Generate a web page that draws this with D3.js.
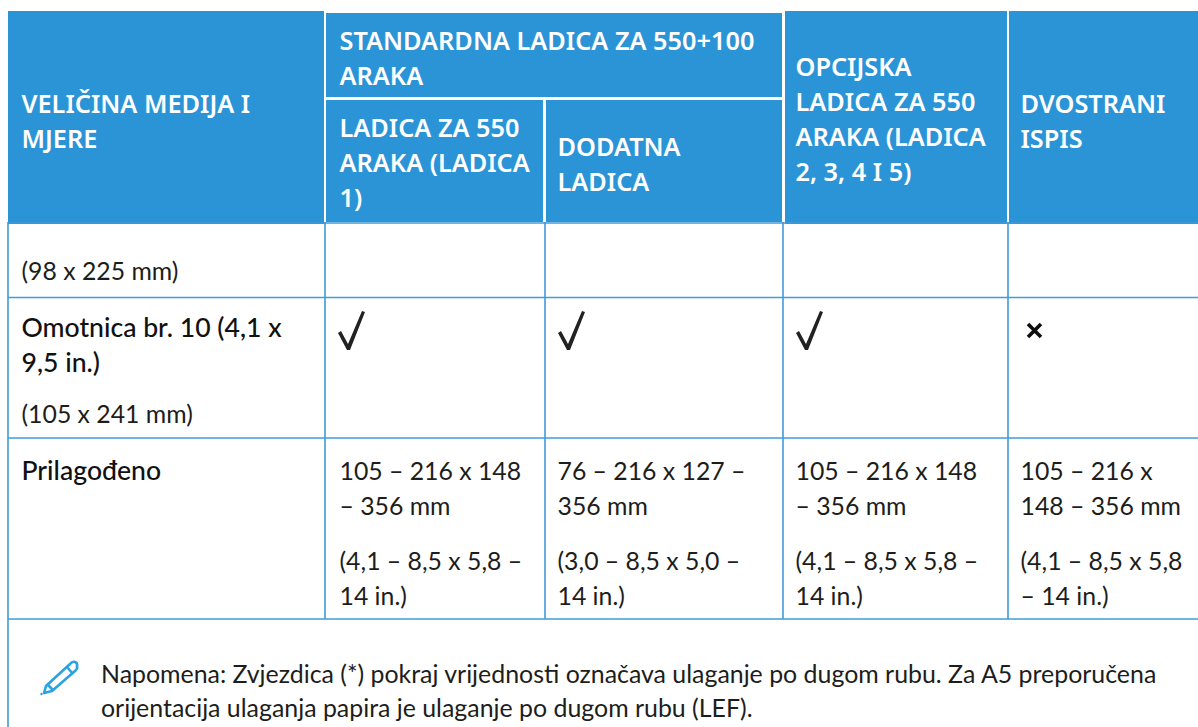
<!DOCTYPE html>
<html>
<head>
<meta charset="utf-8">
<script src="https://cdn.jsdelivr.net/npm/d3@7"></script>
<style>
  html, body { margin: 0; padding: 0; background: #fff; }
  svg { display: block; }
</style>
</head>
<body>
<div id="table"></div>
<script>
// Table content
var columns = ["size", "tray1", "bypass", "optional", "duplex"];
var groupHeader = ["STANDARDNA LADICA ZA 550+100", "ARAKA"];
var sizeHeader = ["VELIČINA MEDIJA I", "MJERE"];
var tray1Header = ["LADICA ZA 550", "ARAKA (LADICA", "1)"];
var bypassHeader = ["DODATNA", "LADICA"];
var optionalHeader = ["OPCIJSKA", "LADICA ZA 550", "ARAKA (LADICA", "2, 3, 4 I 5)"];
var duplexHeader = ["DVOSTRANI", "ISPIS"];

var firstRowText = ["(98 x 225 mm)"];
var envelopeName = ["Omotnica br. 10 (4,1 x", "9,5 in.)"];
var envelopeSize = ["(105 x 241 mm)"];
var envelopeSupport = ["yes", "yes", "yes", "no"];

var customName = ["Prilagođeno"];
var customMm = [
  ["105 – 216 x 148", "– 356 mm"],
  ["76 – 216 x 127 –", "356 mm"],
  ["105 – 216 x 148", "– 356 mm"],
  ["105 – 216 x", "148 – 356 mm"]
];
var customIn = [
  ["(4,1 – 8,5 x 5,8 –", "14 in.)"],
  ["(3,0 – 8,5 x 5,0 –", "14 in.)"],
  ["(4,1 – 8,5 x 5,8 –", "14 in.)"],
  ["(4,1 – 8,5 x 5,8", "– 14 in.)"]
];
var noteLines = [
  "Napomena: Zvjezdica (*) pokraj vrijednosti označava ulaganje po dugom rubu. Za A5 preporučena",
  "orijentacija ulaganja papira je ulaganje po dugom rubu (LEF)."
];

// Setup page
var svgWidth = 1198;
var svgHeight = 727;
var blue = "#2b94d6";
var gridBlue = "#3f9bd9";
var inkColor = "#1d1d1b";
var bodyFont = "Lato, 'Noto Sans', sans-serif";
var headFont = "'Noto Sans', sans-serif";

// column edges
var colLeft = d3.scaleOrdinal().domain(columns).range([8, 325, 545, 783, 1008]);
var colText = d3.scaleOrdinal().domain(columns).range([21.5, 339.5, 557.5, 795.5, 1020.5]);

var svg = d3.select("#table")
  .append("svg")
  .attr("width", svgWidth)
  .attr("height", svgHeight);

// soft edge for the scanned looking marks
svg.append("defs").append("filter")
  .attr("id", "soft")
  .append("feGaussianBlur")
  .attr("stdDeviation", 0.6);

// Header blocks
var headerBlocks = [
  { x: 8, y: 11, x2: 324, y2: 224 },
  { x: 326, y: 13, x2: 782, y2: 97 },
  { x: 326, y: 100, x2: 543, y2: 222 },
  { x: 546, y: 100, x2: 782, y2: 222 },
  { x: 785, y: 11, x2: 1007, y2: 224 },
  { x: 1009, y: 11, x2: 1198, y2: 224 }
];
svg.append("g").selectAll("rect")
  .data(headerBlocks)
  .join("rect")
  .attr("x", d => d.x)
  .attr("y", d => d.y)
  .attr("width", d => d.x2 - d.x)
  .attr("height", d => d.y2 - d.y)
  .attr("fill", blue);

// Grid lines under the header
var rowLines = [223, 297.5, 438, 619];
svg.append("g").selectAll("line")
  .data(rowLines)
  .join("line")
  .attr("x1", 8)
  .attr("x2", svgWidth)
  .attr("y1", d => d)
  .attr("y2", d => d)
  .attr("stroke", gridBlue)
  .attr("stroke-width", 1.6);

svg.append("g").selectAll("line")
  .data(columns)
  .join("line")
  .attr("x1", d => colLeft(d))
  .attr("x2", d => colLeft(d))
  .attr("y1", 222)
  .attr("y2", d => d === "size" ? svgHeight : 619)
  .attr("stroke", gridBlue)
  .attr("stroke-width", 1.6);

// writes a block of lines, one text element per line
function writeLines(x, y, lines, lineHeight, cfg) {
  svg.append("g").selectAll("text")
    .data(lines)
    .join("text")
    .attr("x", x)
    .attr("y", (d, i) => y + i * lineHeight)
    .attr("font-family", cfg.font)
    .attr("font-size", cfg.size)
    .attr("font-weight", cfg.weight)
    .attr("fill", cfg.color)
    .text(d => d);
}

var headStyle = { font: headFont, size: 25.3, weight: 600, color: "#fff" };
var bodyStyle = { font: bodyFont, size: 24.8, weight: 400, color: inkColor };
var nameStyle = { font: bodyFont, size: 26.6, weight: 500, color: "#111" };

writeLines(colText("size"), 113, sizeHeader, 35, headStyle);
writeLines(colText("tray1"), 50, groupHeader, 35, headStyle);
writeLines(colText("tray1"), 137, tray1Header, 35, headStyle);
writeLines(colText("bypass"), 156, bypassHeader, 35, headStyle);
writeLines(colText("optional"), 76, optionalHeader, 35, headStyle);
writeLines(colText("duplex"), 113, duplexHeader, 35, headStyle);

writeLines(colText("size"), 280, firstRowText, 35, bodyStyle);
writeLines(colText("size"), 337, envelopeName, 35, nameStyle);
writeLines(colText("size"), 423, envelopeSize, 35, bodyStyle);
writeLines(colText("size"), 480, customName, 35, nameStyle);

columns.slice(1).forEach(function(col, i) {
  writeLines(colText(col), 480, customMm[i], 35, bodyStyle);
  writeLines(colText(col), 570, customIn[i], 35, bodyStyle);
});

writeLines(101, 683, noteLines, 34, { font: bodyFont, size: 24.9, weight: 400, color: inkColor });

// Support marks
var checkPath = "M0,22 L3,20 L10,33 L24,0 L27,1 L12,39 L9,39 Z";
var crossPath = "M2,2 L15,15 M15,2 L2,15";
svg.append("g").selectAll("path")
  .data(envelopeSupport)
  .join("path")
  .attr("transform", function(d, i) {
    var left = colLeft(columns[i + 1]);
    return d === "yes" ? `translate(${left + 13}, 311)` : `translate(${left + 18}, 322)`;
  })
  .attr("d", d => d === "yes" ? checkPath : crossPath)
  .attr("fill", d => d === "yes" ? "#222" : "none")
  .attr("stroke", d => d === "yes" ? "none" : "#111")
  .attr("stroke-width", 3.6)
  .attr("filter", "url(#soft)");

// Pencil icon
var pencil = svg.append("g")
  .attr("transform", "translate(40, 657)")
  .attr("fill", "none")
  .attr("stroke", "#2aa3e0")
  .attr("stroke-width", 2.6)
  .attr("stroke-linejoin", "round");
pencil.append("path").attr("d", "M6,29 L30,7 C33,3 38,5 37,9 C38,12 36,13 35,14 L12,34 L4,36 Z");
pencil.append("path").attr("d", "M27,10 L33,17");
pencil.append("path").attr("d", "M7,27 L13,33");
pencil.append("circle").attr("cx", 1.5).attr("cy", 37).attr("r", 1.2).attr("fill", "#2aa3e0").attr("stroke", "none");
</script>
</body>
</html>
